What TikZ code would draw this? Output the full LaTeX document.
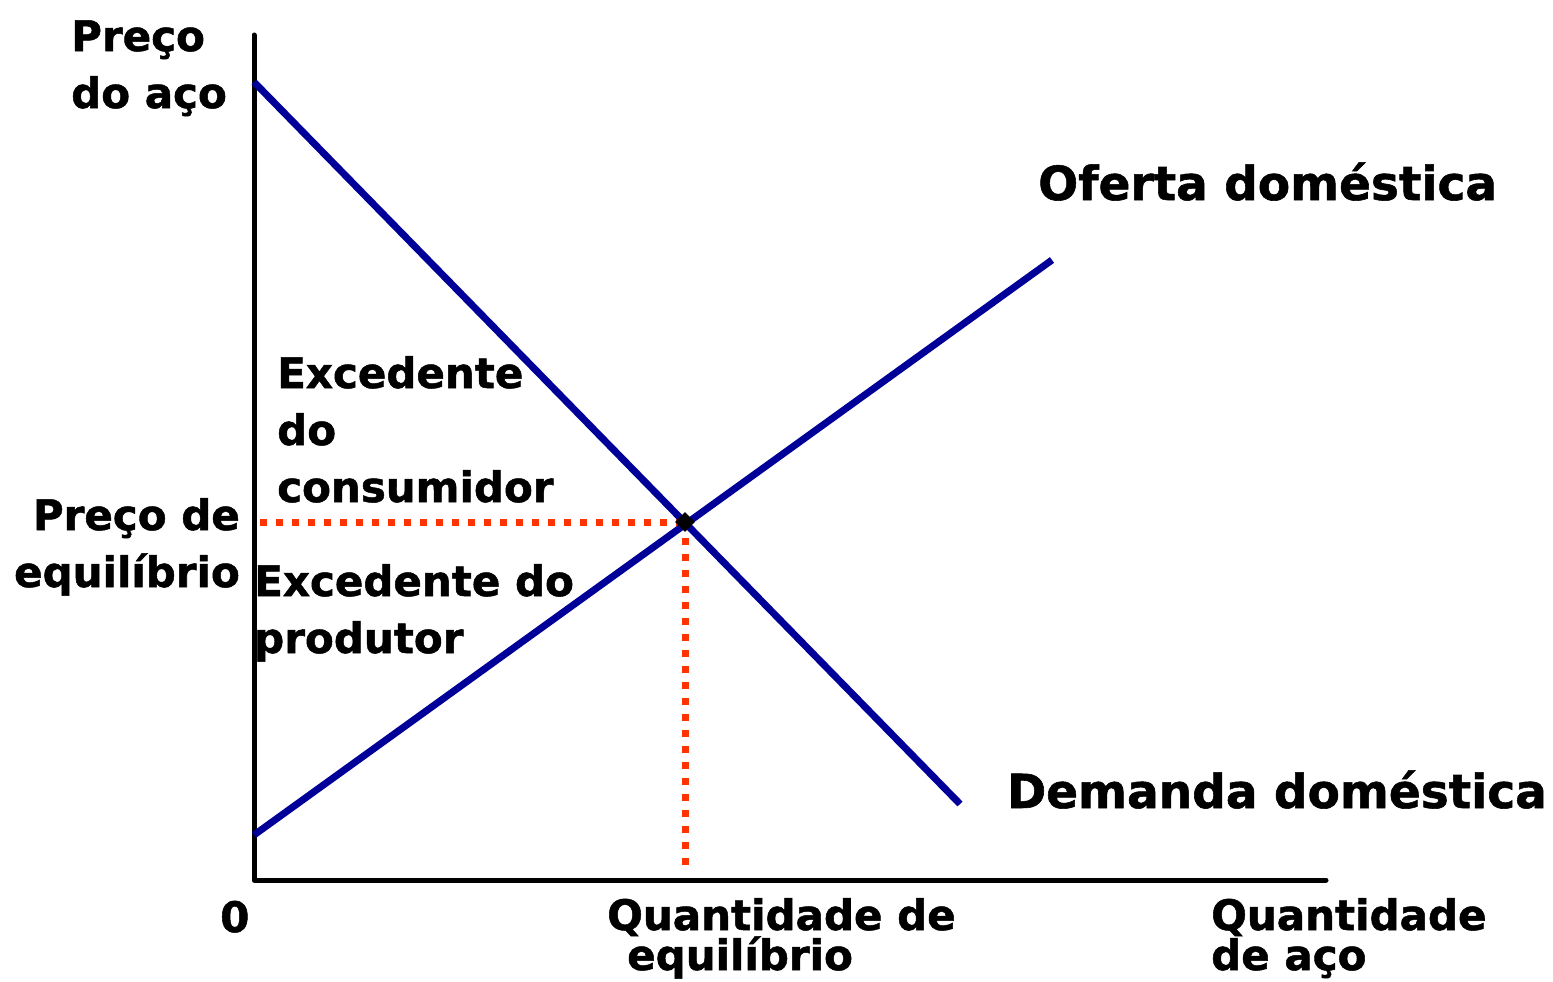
\documentclass[tikz,border=0pt]{standalone}
\usepackage{fontspec}
\setmainfont{DejaVu Sans}[BoldFeatures={FakeBold=1.2}]
\usetikzlibrary{shapes.geometric}
\definecolor{navy}{HTML}{000099}
\definecolor{dotred}{HTML}{FF3300}
\tikzset{
  axis/.style={line width=5pt, line cap=round, line join=round},
  curve/.style={line width=7pt, navy},
  guide/.style={line width=7pt, dotred, dash pattern=on 7pt off 9pt},
  lbl/.style={inner sep=0pt, font=\fontsize{42}{57}\selectfont\bfseries, align=left},
  lblr/.style={inner sep=0pt, font=\fontsize{42}{57}\selectfont\bfseries, align=right},
  lblt/.style={inner sep=0pt, font=\fontsize{42}{40}\selectfont\bfseries, align=left},
  big/.style={inner sep=0pt, font=\fontsize{47}{57}\selectfont\bfseries},
}
\begin{document}
\begin{tikzpicture}[x=1pt,y=-1pt]
\useasboundingbox (0,0) rectangle (1553,982);
% axes
\coordinate (ytop) at (254,35);
\coordinate (orig) at (254,880);
\coordinate (xend) at (1326,880);
\draw[axis] (ytop) -- (orig) -- (xend);
% curves
\coordinate (d1) at (254,82);
\coordinate (d2) at (960,804);
\coordinate (s1) at (254,835);
\coordinate (s2) at (1052,260);
\coordinate (eq) at (685,522);
\coordinate (eqy) at (260,522);
\coordinate (eqx) at (685,872);
\draw[guide] (eqy) -- (eq);
\draw[guide] (eq) -- (eqx);
\draw[curve] (d1) -- (d2);
\draw[curve] (s1) -- (s2);
\node[diamond, fill=black, inner sep=0pt, minimum size=20pt] (eqpt) at (eq) {};
% labels
\node[lbl, anchor=base west] (py) at (71,108) {Preço\\do aço};
\node[big, anchor=base west] (of) at (1038,200) {Oferta doméstica};
\node[big, anchor=base west] (dm) at (1007,808) {Demanda doméstica};
\node[lbl, anchor=base west] (ec) at (277,502) {Excedente\\do\\consumidor};
\node[lblr, anchor=base east] (pe) at (240,587) {Preço de\\equilíbrio};
\node[lbl, anchor=base west] (ep) at (254,653) {Excedente do\\produtor};
\node[lbl, anchor=base west] (zero) at (220,932) {0};
\node[lblt, anchor=base west] (qe) at (607,970) {Quantidade de\\\hspace*{20pt}equilíbrio};
\node[lblt, anchor=base west] (qa) at (1211,970) {Quantidade\\de aço};
\end{tikzpicture}
\end{document}
